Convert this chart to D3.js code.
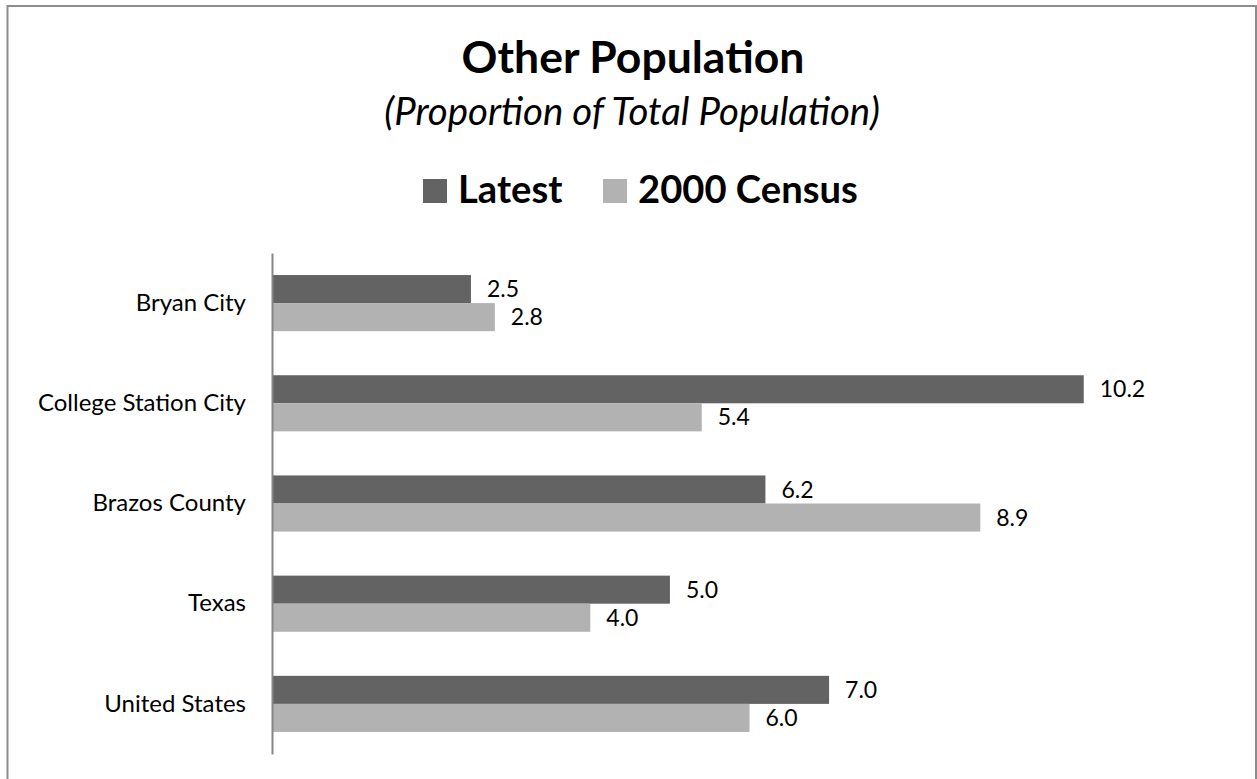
<!DOCTYPE html>
<html>
<head>
<meta charset="utf-8">
<script src="https://cdn.jsdelivr.net/npm/d3@7"></script>
<style>
  html, body { margin: 0; padding: 0; background: #fff; }
  svg { display: block; font-family: Lato, "Open Sans", sans-serif; }
</style>
</head>
<body>
<svg id="chart" width="1257" height="779"></svg>
<script>
// Share of total population classified as "Other"
const categories = ["Bryan City", "College Station City", "Brazos County", "Texas", "United States"];
const seriesNames = ["Latest", "2000 Census"];
const latest = [2.5, 10.2, 6.2, 5.0, 7.0];
const census2000 = [2.8, 5.4, 8.9, 4.0, 6.0];
const seriesColors = ["#636363", "#b2b2b2"];

const svg = d3.select("#chart");

// outer frame
svg.append("rect")
  .attr("x", 7.5).attr("y", 6)
  .attr("width", 1248.5).attr("height", 790)
  .attr("fill", "none").attr("stroke", "#8c8c8c").attr("stroke-width", 2);

// titles
svg.append("text")
  .attr("x", 633).attr("y", 73)
  .attr("text-anchor", "middle")
  .attr("font-weight", "bold").attr("font-size", 44.5)
  .text("Other Population");

svg.append("text")
  .attr("x", 632).attr("y", 125)
  .attr("text-anchor", "middle")
  .attr("font-style", "italic").attr("font-size", 38.4)
  .text("(Proportion of Total Population)");

// legend
const legendItems = [
  { name: seriesNames[0], color: seriesColors[0], x: 423 },
  { name: seriesNames[1], color: seriesColors[1], x: 603 }
];
const lg = svg.append("g");
legendItems.forEach(d => {
  lg.append("rect").attr("x", d.x).attr("y", 179).attr("width", 24).attr("height", 24).attr("fill", d.color);
  lg.append("text").attr("x", d.x + 35).attr("y", 203)
    .attr("font-weight", "bold").attr("font-size", 38.2).text(d.name);
});

// scales
const x = d3.scaleLinear().domain([0, 12]).range([272, 1227]);
const y = d3.scaleBand().domain(categories).range([253, 754]).paddingInner(0.44).paddingOuter(0.22);
const ySub = d3.scaleBand().domain(seriesNames).range([0, y.bandwidth()]);

const rows = categories.map((c, i) => ({ cat: c, values: [latest[i], census2000[i]] }));

const bars = svg.append("g");
rows.forEach(r => {
  r.values.forEach((v, j) => {
    const yy = y(r.cat) + ySub(seriesNames[j]);
    bars.append("rect")
      .attr("x", x(0)).attr("y", yy)
      .attr("width", x(v) - x(0)).attr("height", ySub.bandwidth())
      .attr("fill", seriesColors[j]);
    bars.append("text")
      .attr("x", x(v) + 16).attr("y", yy + ySub.bandwidth() / 2)
      .attr("dy", "0.35em").attr("font-size", 23)
      .text(d3.format(".1f")(v));
  });
});

// category axis
const yAxis = d3.axisLeft(y).tickSize(0).tickPadding(26);
const ga = svg.append("g").attr("transform", `translate(${x(0)},0)`).call(yAxis);
ga.select(".domain").attr("stroke", "#868686").attr("stroke-width", 2);
ga.selectAll("text").attr("font-size", 24).attr("fill", "#000").attr("font-family", "Lato, 'Open Sans', sans-serif");
</script>
</body>
</html>
